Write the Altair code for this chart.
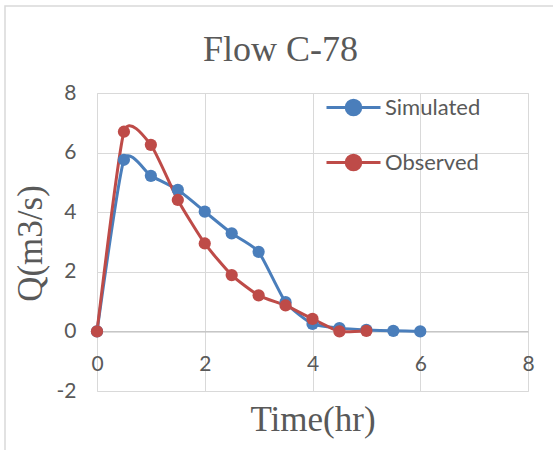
import altair as alt
import pandas as pd

time_sim = [0, 0.5, 1.0, 1.5, 2.0, 2.5, 3.0, 3.5, 4.0, 4.5, 5.0, 5.5, 6.0]
q_sim = [0, 5.76, 5.22, 4.75, 4.02, 3.29, 2.67, 0.98, 0.25, 0.11, 0.05, 0.02, 0.0]
time_obs = [0, 0.5, 1.0, 1.5, 2.0, 2.5, 3.0, 3.5, 4.0, 4.5, 5.0]
q_obs = [0, 6.70, 6.26, 4.41, 2.95, 1.89, 1.21, 0.87, 0.42, 0.0, 0.02]
series = ["Simulated", "Observed"]
colors = ["#4A7EBB", "#BE4B48"]
x_ticks = [0, 2, 4, 6, 8]
y_ticks = [-2, 0, 2, 4, 6, 8]

df = pd.concat([
    pd.DataFrame({"t": time_sim, "q": q_sim, "s": series[0], "k": 0}),
    pd.DataFrame({"t": time_obs, "q": q_obs, "s": series[1], "k": 1}),
])

GRAY = "#595959"
GRID = "#D9D9D9"
SANS = "Lato"
SERIF = "Liberation Serif"

legend_path = ("M-1,0 L1,0 M-0.27,0 A0.27,0.27 0 1,0 0.27,0 "
               "A0.27,0.27 0 1,0 -0.27,0 Z")

x = alt.X("t:Q", scale=alt.Scale(domain=[0, 8], nice=False),
          axis=alt.Axis(values=x_ticks, title="Time(hr)", offset=-59.6,
                        grid=True, gridColor=GRID, domainColor="#BFBFBF",
                        domainWidth=1.3, ticks=False, labelPadding=22, labelFlush=False,
                        labelFont=SANS, labelFontSize=21, labelColor=GRAY,
                        titleFont=SERIF, titleFontSize=35, titleFontWeight="normal",
                        titleColor=GRAY, titleY=88, titleBaseline="middle"))
y = alt.Y("q:Q", scale=alt.Scale(domain=[-2, 8], nice=False),
          axis=alt.Axis(values=y_ticks, title="Q(m3/s)", grid=True, gridColor=GRID,
                        domain=False, ticks=False, labelPadding=21, labelFlush=False,
                        labelExpr="datum.value + ''",
                        labelFont=SANS, labelFontSize=21, labelColor=GRAY,
                        titleFont=SERIF, titleFontSize=35, titleFontWeight="normal",
                        titleColor=GRAY, titleX=-67, titleY=150,
                        titleBaseline="middle", titleAlign="center", titleAngle=270))
color = alt.Color("s:N", scale=alt.Scale(domain=series, range=colors),
                  sort=series,
                  legend=alt.Legend(title=None, orient="none", legendX=228, legendY=-14,
                                    symbolType=legend_path, symbolSize=2916,
                                    symbolStrokeWidth=3, labelOffset=3, rowPadding=13,
                                    labelFont=SANS, labelFontSize=22, labelColor=GRAY,
                                    padding=0))

base = alt.Chart(df)
lines = base.mark_line(interpolate="cardinal", tension=0.45, strokeWidth=3).encode(
    x=x, y=y, color=color, detail="s:N", order="t:Q")
points = base.mark_point(filled=True, size=150, opacity=1).encode(
    x=x, y=y, color=color, order="k:Q")
frame = alt.Chart(pd.DataFrame({"a": [0]})).mark_rect(
    fill=None, stroke=GRID, strokeWidth=1.5).encode(
    x=alt.value(-92), x2=alt.value(470), y=alt.value(-87), y2=alt.value(380))

chart = alt.layer(frame, lines, points).properties(
    width=431, height=298,
    title=alt.TitleParams("Flow C-78", font=SERIF, fontSize=36, fontWeight="normal",
                          color=GRAY, anchor="middle", frame="group", dx=-32,
                          offset=0, dy=64),
    padding={"left": 97, "top": 93, "right": 25, "bottom": 59},
    autosize=alt.AutoSizeParams(type="none"),
).configure_view(stroke=GRID, strokeWidth=1.3).configure(background="white")

chart.save("out.html", embed_options={"renderer": "svg", "actions": False})
